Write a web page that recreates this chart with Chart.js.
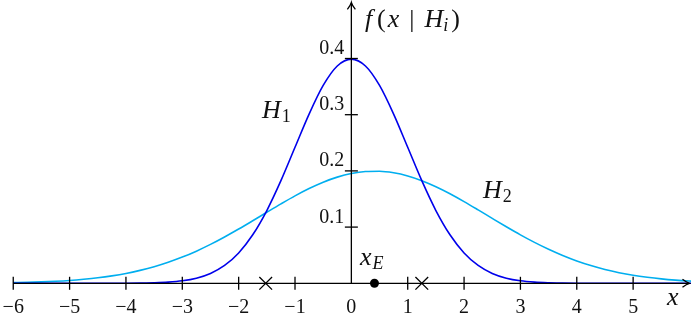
<!DOCTYPE html>
<html>
<head>
<meta charset="utf-8">
<script src="https://cdn.jsdelivr.net/npm/chart.js@4"></script>
<style>
  html, body { margin: 0; padding: 0; background: #fff; }
  #chart { display: block; }
</style>
</head>
<body>
<canvas id="chart" width="691" height="316"></canvas>
<script>
// sample points along x
var xs = [-6, -5.75, -5.5, -5.25, -5, -4.75, -4.5, -4.25, -4, -3.75, -3.5, -3.25, -3, -2.75, -2.5, -2.25,
          -2, -1.75, -1.5, -1.25, -1, -0.75, -0.5, -0.25, 0, 0.25, 0.5, 0.75, 1, 1.25, 1.5, 1.75,
          2, 2.25, 2.5, 2.75, 3, 3.25, 3.5, 3.75, 4, 4.25, 4.5, 4.75, 5, 5.25, 5.5, 5.75, 6, 6.25];

// f(x | H1)
var h1 = [0, 0, 0, 0, 0, 0, 0, 0, 0.0001, 0.0004, 0.0009, 0.0020, 0.0044, 0.0091, 0.0175, 0.0317,
          0.0540, 0.0863, 0.1295, 0.1826, 0.2420, 0.3011, 0.3521, 0.3867, 0.3989, 0.3867, 0.3521, 0.3011, 0.2420, 0.1826, 0.1295, 0.0863,
          0.0540, 0.0317, 0.0175, 0.0091, 0.0044, 0.0020, 0.0009, 0.0004, 0.0001, 0, 0, 0, 0, 0, 0, 0, 0, 0];

// f(x | H2)
var h2 = [0.0012, 0.0017, 0.0025, 0.0036, 0.0051, 0.0072, 0.0098, 0.0132, 0.0175, 0.0230, 0.0295, 0.0374, 0.0466, 0.0572, 0.0692, 0.0824,
          0.0965, 0.1113, 0.1264, 0.1413, 0.1556, 0.1686, 0.1799, 0.1889, 0.1953, 0.1988, 0.1993, 0.1966, 0.1910, 0.1826, 0.1719, 0.1594,
          0.1454, 0.1306, 0.1155, 0.1006, 0.0862, 0.0728, 0.0605, 0.0495, 0.0398, 0.0316, 0.0246, 0.0189, 0.0143, 0.0107, 0.0078, 0.0056, 0.0040, 0.0028];

var crossings = [-1.52, 1.25];   // the two x marks on the axis
var evidence = [0.41];           // x_E dot

var xTicks = [-6, -5, -4, -3, -2, -1, 1, 2, 3, 4, 5];
var xLabels = [-6, -5, -4, -3, -2, -1, 0, 1, 2, 3, 4, 5];
var yTicks = [0.1, 0.2, 0.3, 0.4];

function pts(xv, yv) {
    return xv.map(function (x, i) { return { x: x, y: yv[i] }; });
}

var SERIF = '"Liberation Serif", "DejaVu Serif", serif';

function drawMath(ctx, x, y, parts) {
    parts.forEach(function (p) {
        ctx.font = p[1] + ' ' + p[2] + 'px ' + SERIF;
        ctx.fillText(p[0], x, y + p[3]);
        x += ctx.measureText(p[0]).width + (p[4] || 0);
    });
}

function arrow(ctx, tx, ty, dir) {
    // dir: 'right' or 'up'
    ctx.beginPath();
    if (dir === 'right') {
        ctx.moveTo(tx - 7, ty - 4);
        ctx.quadraticCurveTo(tx - 3, ty - 0.8, tx, ty);
        ctx.quadraticCurveTo(tx - 3, ty + 0.8, tx - 7, ty + 4);
    } else {
        ctx.moveTo(tx - 4, ty + 7);
        ctx.quadraticCurveTo(tx - 0.8, ty + 3, tx, ty);
        ctx.quadraticCurveTo(tx + 0.8, ty + 3, tx + 4, ty + 7);
    }
    ctx.stroke();
}

var axesPlugin = {
    id: 'axes',
    afterDatasetDraw: function (chart, args) {
        if (args.index !== 2) return; // right after the H1 curve, before the markers
        var ctx = chart.ctx, xS = chart.scales.x, yS = chart.scales.y;
        var x0 = xS.getPixelForValue(0), y0 = yS.getPixelForValue(0);
        ctx.save();
        ctx.strokeStyle = '#000';
        ctx.lineWidth = 1.3;
        ctx.lineCap = 'butt';

        // x axis
        var xa = xS.getPixelForValue(-6), xb = xS.getPixelForValue(6);
        ctx.beginPath(); ctx.moveTo(xa, y0); ctx.lineTo(xb - 1, y0); ctx.stroke();
        arrow(ctx, xb, y0, 'right');
        // y axis
        var yb = yS.getPixelForValue(0.5);
        ctx.beginPath(); ctx.moveTo(x0, y0); ctx.lineTo(x0, yb + 1); ctx.stroke();
        arrow(ctx, x0, yb, 'up');

        xTicks.forEach(function (v) {
            var px = xS.getPixelForValue(v);
            ctx.beginPath(); ctx.moveTo(px, y0 - 6.5); ctx.lineTo(px, y0 + 6.5); ctx.stroke();
        });
        yTicks.forEach(function (v) {
            var py = yS.getPixelForValue(v);
            ctx.beginPath(); ctx.moveTo(x0 - 6.5, py); ctx.lineTo(x0 + 6.5, py); ctx.stroke();
        });
        ctx.restore();
    },
    afterDraw: function (chart) {
        var ctx = chart.ctx, xS = chart.scales.x, yS = chart.scales.y;
        var x0 = xS.getPixelForValue(0), y0 = yS.getPixelForValue(0);
        ctx.save();
        ctx.fillStyle = '#111';
        ctx.textBaseline = 'alphabetic';

        ctx.font = '20px ' + SERIF;
        ctx.textAlign = 'center';
        xLabels.forEach(function (v) {
            var s = v < 0 ? '\u2212' + Math.abs(v) : String(v);
            ctx.fillText(s, xS.getPixelForValue(v), y0 + 30);
        });
        ctx.textAlign = 'right';
        yTicks.forEach(function (v) {
            ctx.fillText(v.toFixed(1), x0 - 7, yS.getPixelForValue(v) - 4.5);
        });

        ctx.textAlign = 'left';
        drawMath(ctx, xS.getPixelForValue(0.24), yS.getPixelForValue(0.456), [
            ['f', 'italic', 26, 0, 5], ['(', 'normal', 26, 0, 2], ['x', 'italic', 26, 0, 10],
            ['|', 'normal', 26, 0, 10], ['H', 'italic', 26, 0, 0], ['i', 'italic', 18, 4, 3],
            [')', 'normal', 26, 0, 0]
        ]);
        drawMath(ctx, xS.getPixelForValue(-1.586), yS.getPixelForValue(0.294), [
            ['H', 'italic', 26, 0, 1], ['1', 'normal', 18, 4, 0]
        ]);
        drawMath(ctx, xS.getPixelForValue(2.336), yS.getPixelForValue(0.152), [
            ['H', 'italic', 26, 0, 1], ['2', 'normal', 18, 4, 0]
        ]);
        drawMath(ctx, xS.getPixelForValue(0.153), yS.getPixelForValue(0.0326), [
            ['x', 'italic', 26, 0, 1], ['E', 'italic', 18, 4, 0]
        ]);
        drawMath(ctx, xS.getPixelForValue(5.6), yS.getPixelForValue(-0.039), [
            ['x', 'italic', 26, 0, 0]
        ]);
        ctx.restore();
    }
};

var ctx = document.getElementById('chart').getContext('2d');
var myChart = new Chart(ctx, {
    type: 'scatter',
    data: {
        datasets: [{
            label: 'crossings',
            data: crossings.map(function (x) { return { x: x, y: 0 }; }),
            pointStyle: 'crossRot',
            pointRadius: 9,
            borderColor: '#000',
            borderWidth: 1.3,
            order: 0
        }, {
            label: 'x_E',
            data: evidence.map(function (x) { return { x: x, y: 0 }; }),
            pointStyle: 'circle',
            pointRadius: 4.5,
            backgroundColor: '#000',
            borderColor: '#000',
            borderWidth: 0,
            order: 0
        }, {
            label: 'H1',
            data: pts(xs, h1),
            showLine: true,
            borderColor: 'rgb(0,0,235)',
            borderWidth: 1.6,
            pointRadius: 0,
            cubicInterpolationMode: 'monotone',
            order: 1
        }, {
            label: 'H2',
            data: pts(xs, h2),
            showLine: true,
            borderColor: '#00aeef',
            borderWidth: 1.6,
            pointRadius: 0,
            cubicInterpolationMode: 'monotone',
            order: 2
        }]
    },
    options: {
        responsive: false,
        animation: false,
        layout: { padding: 0, autoPadding: false },
        plugins: { legend: { display: false }, tooltip: { enabled: false } },
        scales: {
            x: { type: 'linear', min: -6.235, max: 6.027, display: false },
            y: { type: 'linear', min: -0.0582, max: 0.5041, display: false }
        }
    },
    plugins: [axesPlugin]
});
</script>
</body>
</html>
